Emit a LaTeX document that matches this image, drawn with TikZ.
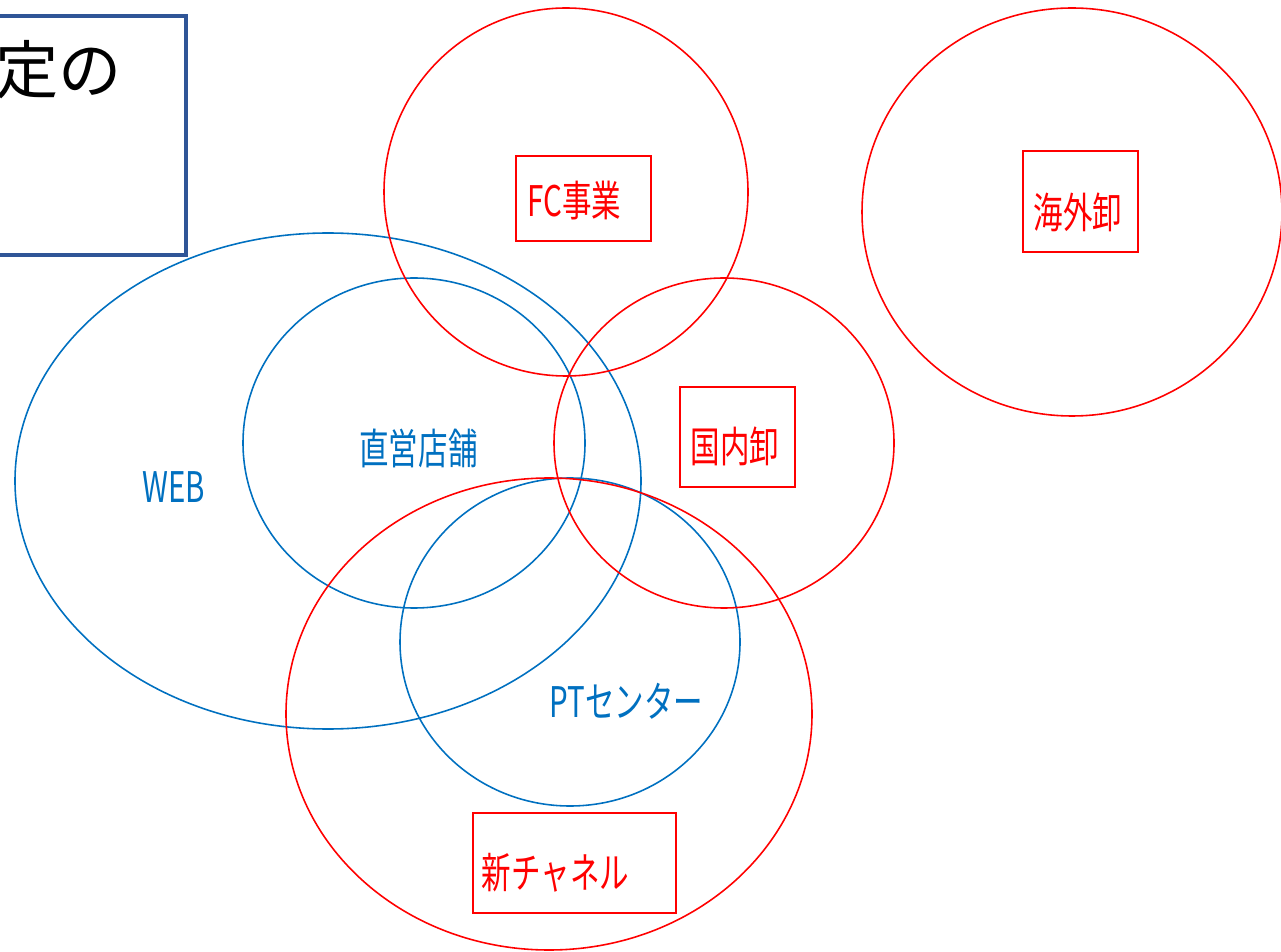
\documentclass[tikz,border=0pt]{standalone}
\usepackage{fontspec}
\newfontfamily\jp[FakeStretch=0.7]{Noto Sans CJK JP}
\newfontfamily\jpwide{Noto Sans CJK JP}
\definecolor{setblue}{HTML}{0070C0}
\definecolor{navy}{HTML}{2F5597}

\begin{document}
\begin{tikzpicture}[x=0.02cm, y=-0.02cm]
    \tikzstyle{redset}=[draw=red, line width=0.9pt]
    \tikzstyle{blueset}=[draw=setblue, line width=0.9pt]
    \tikzstyle{tag}=[draw=red, line width=1.1pt, inner sep=0]
    \tikzstyle{rt}=[text=red, font=\jp\fontsize{24}{28}\selectfont, inner sep=0]
    \tikzstyle{bt}=[text=setblue, font=\jp\fontsize{24}{28}\selectfont, inner sep=0]

    \useasboundingbox (0,0) rectangle (1281,952);

    % title box, cut at the left edge
    \node[draw=navy, line width=1.8pt, minimum width=4.12cm, minimum height=4.78cm] (titlebox) at (83,135.5) {};
    \node[anchor=east, inner sep=0, font=\jpwide\fontsize{36}{42}\selectfont] (title) at (122,70) {定の};

    % sets
    \draw[blueset] (328,481) ellipse [x radius=313, y radius=248];
    \draw[blueset] (414,443) ellipse [x radius=171, y radius=165];
    \draw[blueset] (570,642) ellipse [x radius=170, y radius=164];
    \draw[redset] (566,192) ellipse [x radius=182, y radius=184];
    \draw[redset] (1072,212) ellipse [x radius=210, y radius=204];
    \draw[redset] (724,443) ellipse [x radius=170, y radius=165];
    \draw[redset] (549,714) ellipse [x radius=263, y radius=236];

    % labels
    \node[tag, minimum width=2.7cm, minimum height=1.7cm] (fcbox) at (583.5,198.5) {};
    \node[rt] (fc) at (574.5,201) {FC事業};
    \node[tag, minimum width=2.3cm, minimum height=2.02cm] (kaigaibox) at (1080.5,201.5) {};
    \node[rt] (kaigai) at (1078,212) {海外卸};
    \node[tag, minimum width=2.3cm, minimum height=2cm] (kokunaibox) at (737.5,437) {};
    \node[rt] (kokunai) at (735,446) {国内卸};
    \node[tag, minimum width=4.06cm, minimum height=2cm] (shinbox) at (574.5,863) {};
    \node[rt] (shin) at (555.5,872.5) {新チャネル};

    \node[bt] (web) at (174,487) {WEB};
    \node[bt] (chokuei) at (418.5,448.5) {直営店舗};
    \node[bt] (pt) at (626.5,701.5) {PTセンター};
\end{tikzpicture}
\end{document}
